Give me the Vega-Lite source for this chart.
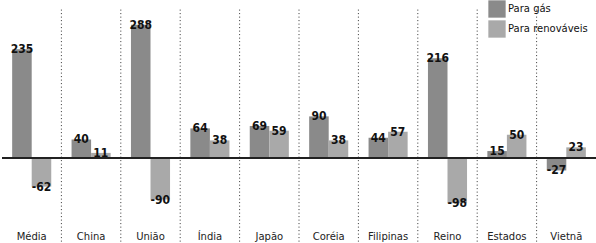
{
  "$schema": "https://vega.github.io/schema/vega-lite/v6.json",
  "width": 594,
  "height": 220,
  "padding": {"left": 2, "top": 5, "right": 0, "bottom": 18},
  "autosize": {"type": "none"},
  "background": "white",
  "config": {
    "view": {"stroke": null},
    "font": "DejaVu Sans",
    "locale": {"number": {"decimal": ".", "thousands": ",", "grouping": [3], "currency": ["", ""], "minus": "-"}}
  },
  "data": {
    "values": [
      {"pais": "Média", "tipo": "Para gás", "valor": 235},
      {"pais": "Média", "tipo": "Para renováveis", "valor": -62},
      {"pais": "China", "tipo": "Para gás", "valor": 40},
      {"pais": "China", "tipo": "Para renováveis", "valor": 11},
      {"pais": "União", "tipo": "Para gás", "valor": 288},
      {"pais": "União", "tipo": "Para renováveis", "valor": -90},
      {"pais": "Índia", "tipo": "Para gás", "valor": 64},
      {"pais": "Índia", "tipo": "Para renováveis", "valor": 38},
      {"pais": "Japão", "tipo": "Para gás", "valor": 69},
      {"pais": "Japão", "tipo": "Para renováveis", "valor": 59},
      {"pais": "Coréia", "tipo": "Para gás", "valor": 90},
      {"pais": "Coréia", "tipo": "Para renováveis", "valor": 38},
      {"pais": "Filipinas", "tipo": "Para gás", "valor": 44},
      {"pais": "Filipinas", "tipo": "Para renováveis", "valor": 57},
      {"pais": "Reino", "tipo": "Para gás", "valor": 216},
      {"pais": "Reino", "tipo": "Para renováveis", "valor": -98},
      {"pais": "Estados", "tipo": "Para gás", "valor": 15},
      {"pais": "Estados", "tipo": "Para renováveis", "valor": 50},
      {"pais": "Vietnã", "tipo": "Para gás", "valor": -27},
      {"pais": "Vietnã", "tipo": "Para renováveis", "valor": 23}
    ]
  },
  "encoding": {
    "x": {
      "field": "pais", "type": "nominal",
      "sort": ["Média", "China", "União", "Índia", "Japão", "Coréia", "Filipinas", "Reino", "Estados", "Vietnã"],
      "scale": {"paddingInner": 0, "paddingOuter": 0},
      "axis": {
        "title": null, "domain": false, "ticks": false, "grid": false, "labelAngle": 0,
        "labelFont": "DejaVu Sans", "labelFontSize": 10, "labelColor": "#222",
        "labelPadding": 6, "labelBaseline": "top", "labelAlign": "center"
      }
    },
    "xOffset": {"field": "tipo", "type": "nominal", "scale": {"paddingInner": 0, "paddingOuter": 0.52}},
    "y": {
      "field": "valor", "type": "quantitative",
      "scale": {"domain": [-145, 331], "nice": false, "zero": false},
      "axis": null
    }
  },
  "layer": [
    {
      "transform": [{"filter": "datum.pais !== 'Média' && datum.tipo === 'Para gás'"}],
      "mark": {"type": "rule", "color": "#333", "strokeWidth": 1, "strokeDash": [1, 2.5], "clip": false},
      "encoding": {
        "x": {
          "field": "pais", "type": "nominal", "bandPosition": 0,
          "sort": ["Média", "China", "União", "Índia", "Japão", "Coréia", "Filipinas", "Reino", "Estados", "Vietnã"]
        },
        "xOffset": null,
        "y": {"datum": 321},
        "y2": {"datum": -185}
      }
    },
    {
      "mark": {"type": "bar"},
      "encoding": {
        "color": {
          "field": "tipo", "type": "nominal",
          "scale": {"domain": ["Para gás", "Para renováveis"], "range": ["#8a8a8a", "#a9a9a9"]},
          "legend": {
            "title": null, "orient": "none", "legendX": 486, "legendY": -5,
            "symbolType": "square", "symbolSize": 300, "symbolStrokeWidth": 0,
            "rowPadding": 2, "labelFontSize": 10, "labelFont": "DejaVu Sans",
            "labelColor": "#111", "labelOffset": 2
          }
        }
      }
    },
    {
      "mark": {"type": "text", "fontWeight": "bold", "fontSize": 12, "font": "DejaVu Sans Condensed", "color": "#111"},
      "encoding": {
        "text": {"field": "valor", "type": "quantitative", "format": "d"},
        "baseline": {"condition": {"test": "datum.valor < 0", "value": "top"}, "value": "bottom"},
        "dy": {"condition": {"test": "datum.valor < 0", "value": 5}, "value": -5}
      }
    },
    {
      "mark": {"type": "rule", "color": "#222", "strokeWidth": 1.5},
      "encoding": {"y": {"datum": 0}, "x": null, "xOffset": null}
    }
  ]
}
